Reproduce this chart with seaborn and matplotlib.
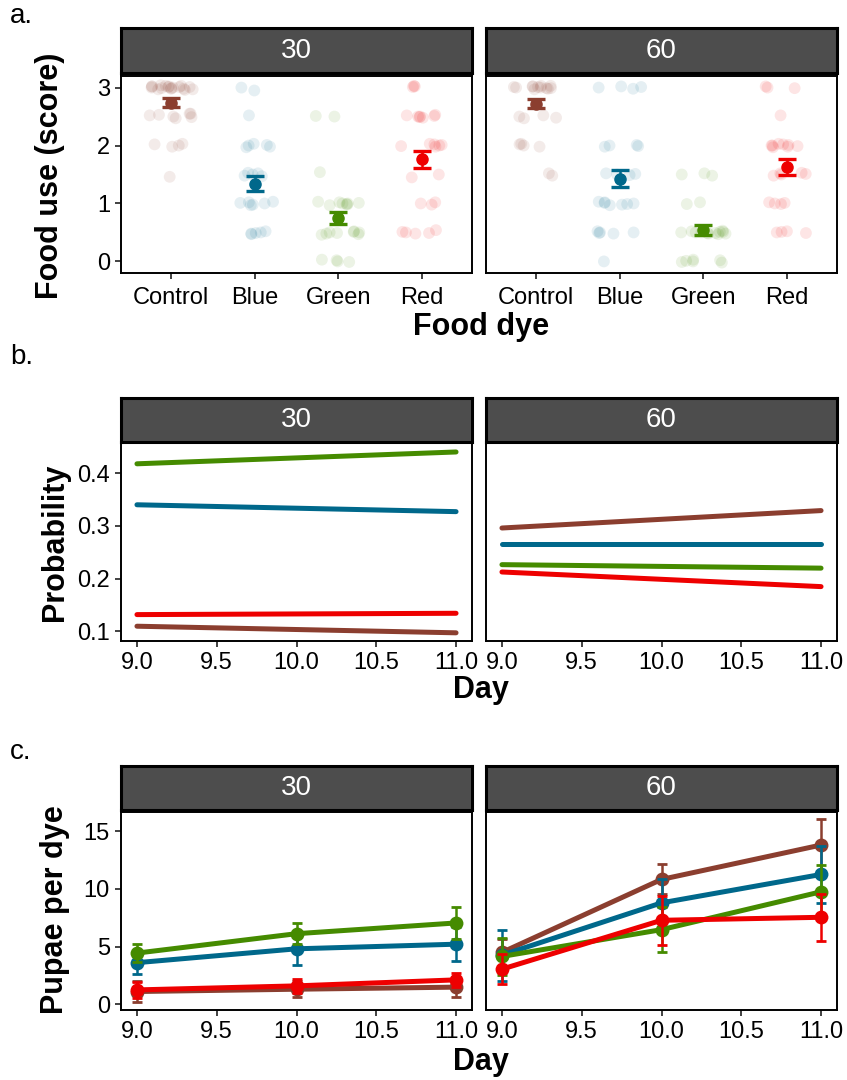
import numpy as np
import pandas as pd
import matplotlib.pyplot as plt
import seaborn as sns

sns.set_style("white")
plt.rcParams['font.family'] = ['Liberation Sans', 'DejaVu Sans']
plt.rcParams['text.color'] = 'black'

# ==========================================
# DATA
# ==========================================
dyes = ["Control", "Blue", "Green", "Red"]
dye_colors = ["#8B3E2F", "#00688B", "#458B00", "#EE0000"]
temps = ["30", "60"]

# a. food use scores (raw points)
score_30 = {
    "Control": [3.02, 2.98, 3.01, 3.03, 2.97, 3.0, 2.99, 3.02, 3.04, 2.98, 3.01, 2.96, 3.03, 3.0, 2.99,
                3.01, 2.97, 3.02, 2.55, 2.52, 2.47, 2.49, 2.53, 2.5, 2.55, 2.02, 1.98, 2.03, 2.0, 1.46],
    "Blue": [3.0, 2.95, 2.52, 2.03, 2.0, 1.98, 2.01, 1.97, 1.52, 1.48, 1.5, 1.53, 1.47, 1.02, 0.98,
             1.0, 0.97, 1.03, 1.01, 0.52, 0.48, 0.47, 0.5, 0.49],
    "Green": [2.5, 2.51, 1.54, 1.0, 1.02, 0.98, 1.01, 0.99, 1.03, 0.97, 1.0, 0.48, 0.5, 0.47, 0.52,
              0.49, 0.51, 0.46, 0.5, 0.02, -0.01, 0.0, 0.03],
    "Red": [3.02, 3.03, 3.01, 2.52, 2.5, 2.49, 2.51, 2.53, 2.48, 2.5, 2.02, 2.0, 2.03, 1.98, 2.01,
            1.99, 1.5, 1.45, 1.0, 1.02, 0.98, 0.5, 0.49, 0.51, 0.48, 0.54],
}
score_60 = {
    "Control": [3.02, 3.0, 2.99, 3.03, 2.98, 3.01, 3.02, 2.97, 3.0, 3.01, 3.03, 2.99, 2.48, 2.5, 2.47,
                2.52, 2.02, 2.0, 1.98, 2.03, 1.52, 1.48],
    "Blue": [3.0, 3.02, 2.98, 3.01, 2.0, 1.98, 2.01, 1.99, 1.52, 1.5, 1.49, 1.51, 1.02, 0.99, 1.0,
             0.98, 1.01, 1.03, 0.97, 0.5, 0.49, 0.52, 0.48, 0.5, 0.0],
    "Green": [1.5, 1.52, 1.48, 1.02, 0.99, 0.5, 0.49, 0.51, 0.48, 0.52, 0.5, 0.47, 0.53, 0.5, 0.49,
              0.51, 0.48, 0.02, -0.01, 0.0, 0.03, 0.01, -0.02],
    "Red": [3.02, 2.99, 3.0, 2.52, 2.02, 2.0, 1.98, 2.01, 2.03, 1.99, 2.0, 1.97, 1.52, 1.5, 1.48,
            1.51, 1.53, 1.02, 0.99, 1.0, 1.01, 0.5, 0.52, 0.49, 0.51],
}
score_mean_30 = [2.74, 1.34, 0.75, 1.76]
score_se_30 = [0.08, 0.13, 0.10, 0.145]
score_mean_60 = [2.72, 1.43, 0.54, 1.63]
score_se_60 = [0.075, 0.145, 0.09, 0.13]

# b. predicted probability by day
days_b = [9.0, 11.0]
prob_30 = {"Control": [0.110, 0.0975], "Blue": [0.340, 0.327],
           "Green": [0.4176, 0.440], "Red": [0.132, 0.1345]}
prob_60 = {"Control": [0.296, 0.329], "Blue": [0.266, 0.266],
           "Green": [0.2266, 0.220], "Red": [0.2127, 0.185]}

# c. pupae per dye, mean and SE by day
days_c = [9.0, 10.0, 11.0]
pupae_30 = {"Control": [1.1, 1.3, 1.48], "Blue": [3.6, 4.8, 5.2],
            "Green": [4.43, 6.11, 7.04], "Red": [1.24, 1.59, 2.11]}
pupae_se_30 = {"Control": [0.9, 0.7, 0.87], "Blue": [1.0, 1.4, 1.46],
               "Green": [0.8, 0.9, 1.42], "Red": [0.7, 0.6, 0.6]}
pupae_60 = {"Control": [4.49, 10.81, 13.79], "Blue": [4.25, 8.78, 11.24],
            "Green": [4.14, 6.46, 9.74], "Red": [3.04, 7.27, 7.53]}
pupae_se_60 = {"Control": [1.2, 1.3, 2.25], "Blue": [2.2, 2.1, 2.5],
               "Green": [1.6, 1.97, 2.3], "Red": [1.3, 2.1, 2.05]}

# ==========================================
# LAYOUT HELPERS (pixel boxes -> figure fractions)
# ==========================================
W, H = 847, 1080
fig = plt.figure(figsize=(W / 100, H / 100), dpi=100)
pal = dict(zip(dyes, dye_colors))
TITLE_SIZE = 22


def box(x0, y0, x1, y1):
    return [x0 / W, 1 - y1 / H, (x1 - x0) / W, (y1 - y0) / H]


def style_panel(ax):
    for s in ax.spines.values():
        s.set_visible(True)
        s.set_color("black")
        s.set_linewidth(1.4)
    ax.tick_params(axis="both", which="both", length=4, width=1.3, color="#333333",
                   labelsize=17, labelcolor="black", direction="out", bottom=True, left=True,
                   pad=4)
    ax.set_xlabel("")
    ax.set_ylabel("")


def strip(x0, y0, x1, y1, label):
    sa = fig.add_axes(box(x0, y0, x1, y1))
    sa.set_facecolor("#4D4D4D")
    sa.set_xticks([])
    sa.set_yticks([])
    for s in sa.spines.values():
        s.set_visible(True)
        s.set_color("black")
        s.set_linewidth(2.2)
    sa.text(0.5, 0.5, label, color="white", fontsize=20, ha="center", va="center",
            transform=sa.transAxes)


cols = [(121, 472), (486, 837)]
rows = {"a": (28, 73, 76, 273), "b": (398, 442, 443, 641), "c": (766, 810, 812, 1010)}

# ==========================================
# a. FOOD USE
# ==========================================
np.random.seed(7)
for i, (t, sc, mu, se) in enumerate(zip(temps, [score_30, score_60],
                                         [score_mean_30, score_mean_60],
                                         [score_se_30, score_se_60])):
    s0, s1, p0, p1 = rows["a"]
    ax = fig.add_axes(box(cols[i][0], p0, cols[i][1], p1))
    df = pd.DataFrame([(d, v) for d in dyes for v in sc[d]], columns=["dye", "score"])
    sns.stripplot(data=df, x="dye", y="score", hue="dye", order=dyes, hue_order=dyes,
                  palette=pal, jitter=0.27, alpha=0.1, size=8.5, linewidth=0,
                  legend=False, ax=ax)
    for k, d in enumerate(dyes):
        ax.errorbar(k, mu[k], yerr=se[k], fmt="o", color=pal[d], markersize=8,
                    elinewidth=1.8, capsize=6.5, capthick=2.4, zorder=5)
    ax.set_xlim(-0.6, 3.6)
    ax.set_ylim(-0.2, 3.2)
    ax.set_yticks([0, 1, 2, 3])
    style_panel(ax)
    ax.tick_params(axis="x", pad=6)
    if i == 1:
        ax.set_yticklabels([])
        ax.tick_params(axis="y", length=0)
    strip(cols[i][0], s0, cols[i][1], s1, t)

fig.text(50 / W, 1 - 176 / H, "Food use (score)", rotation=90, fontsize=TITLE_SIZE,
         fontweight="bold", ha="center", va="center")
fig.text(481 / W, 1 - 327 / H, "Food dye", fontsize=TITLE_SIZE, fontweight="bold",
         ha="center", va="center")

# ==========================================
# b. PROBABILITY
# ==========================================
for i, (t, pr) in enumerate(zip(temps, [prob_30, prob_60])):
    s0, s1, p0, p1 = rows["b"]
    ax = fig.add_axes(box(cols[i][0], p0, cols[i][1], p1))
    df = pd.DataFrame([(d, x, v) for d in dyes for x, v in zip(days_b, pr[d])],
                      columns=["dye", "day", "prob"])
    sns.lineplot(data=df, x="day", y="prob", hue="dye", hue_order=dyes, palette=pal,
                 linewidth=3.6, legend=False, ax=ax)
    ax.set_xlim(8.9, 11.1)
    ax.set_ylim(0.082, 0.457)
    ax.set_xticks([9.0, 9.5, 10.0, 10.5, 11.0])
    ax.set_xticklabels(["9.0", "9.5", "10.0", "10.5", "11.0"])
    ax.set_yticks([0.1, 0.2, 0.3, 0.4])
    ax.set_yticklabels(["0.1", "0.2", "0.3", "0.4"])
    style_panel(ax)
    if i == 1:
        ax.set_yticklabels([])
        ax.tick_params(axis="y", length=0)
    strip(cols[i][0], s0, cols[i][1], s1, t)

fig.text(55 / W, 1 - 542 / H, "Probability", rotation=90, fontsize=TITLE_SIZE,
         fontweight="bold", ha="center", va="center")
fig.text(481 / W, 1 - 690 / H, "Day", fontsize=TITLE_SIZE, fontweight="bold",
         ha="center", va="center")

# ==========================================
# c. PUPAE PER DYE
# ==========================================
for i, (t, pu, pse) in enumerate(zip(temps, [pupae_30, pupae_60], [pupae_se_30, pupae_se_60])):
    s0, s1, p0, p1 = rows["c"]
    ax = fig.add_axes(box(cols[i][0], p0, cols[i][1], p1))
    df = pd.DataFrame([(d, x, v, e) for d in dyes for x, v, e in zip(days_c, pu[d], pse[d])],
                      columns=["dye", "day", "pupae", "se"])
    for d in dyes:
        sub = df[df["dye"] == d]
        ax.errorbar(sub["day"], sub["pupae"], yerr=sub["se"], fmt="none", ecolor=pal[d],
                    elinewidth=1.8, capsize=3.5, capthick=2.0)
        sns.lineplot(data=sub, x="day", y="pupae", color=pal[d], linewidth=3.6,
                     marker="o", markersize=10, markeredgewidth=0, ax=ax)
    ax.set_xlim(8.9, 11.1)
    ax.set_ylim(-0.5, 16.65)
    ax.set_xticks([9.0, 9.5, 10.0, 10.5, 11.0])
    ax.set_xticklabels(["9.0", "9.5", "10.0", "10.5", "11.0"])
    ax.set_yticks([0, 5, 10, 15])
    style_panel(ax)
    if i == 1:
        ax.set_yticklabels([])
        ax.tick_params(axis="y", length=0)
    strip(cols[i][0], s0, cols[i][1], s1, t)

fig.text(55 / W, 1 - 910 / H, "Pupae per dye", rotation=90, fontsize=TITLE_SIZE,
         fontweight="bold", ha="center", va="center")
fig.text(481 / W, 1 - 1062 / H, "Day", fontsize=TITLE_SIZE, fontweight="bold",
         ha="center", va="center")

# panel tags
for tag, y in [("a.", 16), ("b.", 357), ("c.", 752)]:
    fig.text(10 / W, 1 - y / H, tag, fontsize=20, ha="left", va="center")

fig.savefig("out.png", dpi=100)
